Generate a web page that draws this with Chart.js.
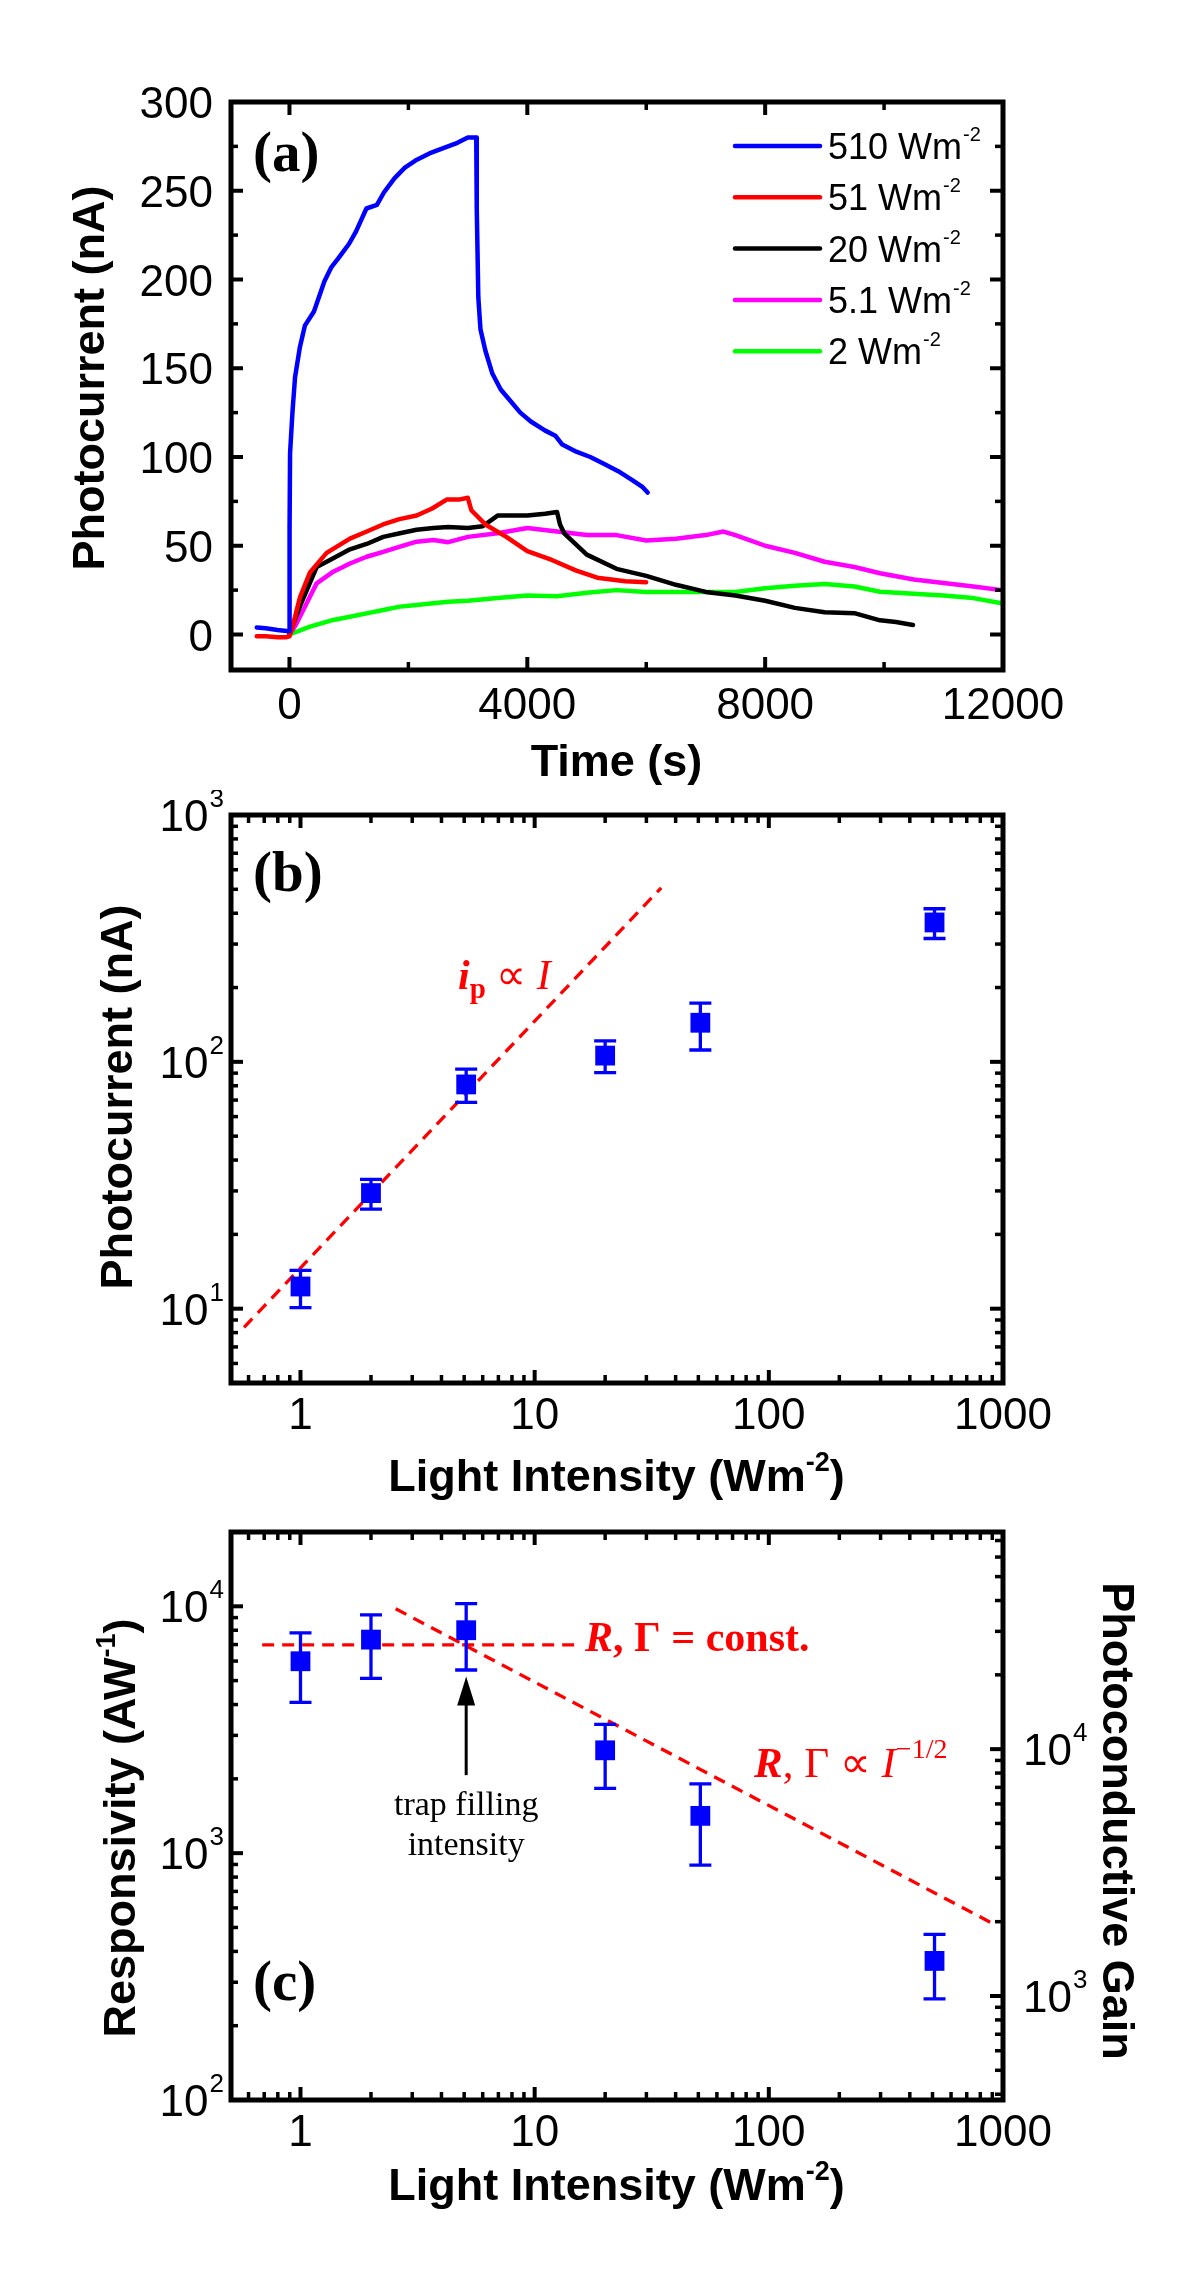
<!DOCTYPE html>
<html><head><meta charset="utf-8">
<script src="https://cdn.jsdelivr.net/npm/chart.js@4.4.1/dist/chart.umd.min.js"></script>
<style>
html,body{margin:0;padding:0;background:#fff;}
#wrap{position:relative;width:1200px;height:2272px;background:#fff;overflow:hidden;}
canvas{position:absolute;left:0;}
</style></head><body>
<div id="wrap">
<canvas id="ca" style="top:0px" width="1200" height="790"></canvas>
<canvas id="cb" style="top:790px" width="1200" height="710"></canvas>
<canvas id="cc" style="top:1500px" width="1200" height="772"></canvas>
</div>
<script>
// ---------------- DATA ----------------
// Panel (a): time traces (time in s, photocurrent in nA)
const t510 = [-550,-400,-200,-50,0,2,10,50,94,176,259,412,588,706,824,1000,1118,1294,1471,1588,1765,1941,2118,2353,2588,2824,3000,3141,3150,3176,3212,3294,3412,3553,3706,3882,4059,4294,4471,4588,4824,5059,5294,5529,5765,5941,6024];
const i510 = [4,3.5,2.5,2,2,60,102,125,145,162,174,182,199,207,212,220,227,240,242,249,257,263,267,271,274,277,280,280,240,190,172,160,147,138,132,125,120,115,112,107,103,100,96,92,87,83,80];
const t51 = [-550,-400,-200,-50,0,64,177,345,625,1017,1300,1574,1850,2139,2400,2643,2850,3000,3059,3294,3647,4000,4412,4824,5176,5647,6000];
const i51 = [-1,-1,-1.5,-1.5,-1,6,21,35,46,54,58,62,65,67,71,76,76,77,70,62,55,47,42,36,32,30,29.5];
const t20 = [0,177,457,737,1017,1298,1578,1858,2139,2419,2671,3000,3250,3500,3700,4000,4300,4500,4550,4620,5000,5500,6000,6500,7000,7500,8000,8500,9000,9500,9931,10200,10487];
const i20 = [0,16,38,43,48,51,55,57,59,60,60.5,60,61,67,67,67,68,69,62,57,45,37,33,28,24,22,19,15,12.5,12,8,7,5.4];
const t5 = [0,100,289,457,737,1017,1298,1578,1858,2139,2419,2671,3000,3500,4000,4500,5000,5500,6000,6500,7000,7300,7500,8000,8500,9000,9500,9931,10500,11000,11500,11978];
const i5 = [0,5,17.6,28.8,35.4,40,43.8,46.6,49.5,52.3,53.2,52,55,57,60,58,56,56,53,54,56,58,56,50,46,41,38,34.5,31,29,27,25];
const t2 = [0,345,737,1017,1298,1578,1858,2139,2419,2671,3000,3500,4000,4500,5000,5500,6000,6500,7000,7500,8000,8500,9000,9500,9931,10500,11000,11500,11978];
const i2 = [0,4.4,8.2,10,11.9,13.8,15.7,16.6,17.6,18.5,19,20.5,22,21.5,23.5,25,24,24,24,24,26,27.5,28.5,27,24.1,23,22,20.5,17.6];
const seriesLabelsA = ['510','51','20','5.1','2'];

// Panel (b): photocurrent vs intensity
const intensity = [1, 2, 5.1, 20, 51, 510];
const photoCur = [12.3, 29.4, 81, 106, 144, 367];
const photoCurHi = [14.3, 33.4, 93.5, 121.7, 173, 417];
const photoCurLo = [10.1, 25.3, 68.5, 90.4, 111.7, 316];
const linFitI = [0.574, 34.7];
const linFitP = [8.4, 507];

// Panel (c): responsivity vs intensity
const resp = [5990, 7330, 8000, 2610, 1416, 366];
const respHi = [7800, 9230, 10250, 3325, 1908, 469];
const respLo = [4085, 5110, 5520, 1830, 894, 257];
const constFitI = [0.686, 14.8];
const constFitR = [6980, 6980];
const sqrtFitI = [2.55, 935];
const sqrtFitR = [9770, 510];
const gainPerResp = 3.79;
const arrowI = 5.1, arrowFromR = 2070, arrowToR = 5190;

// Tick values
const tickAx = [0, 4000, 8000, 12000], minorAx = [2000, 6000, 10000];
const tickAy = [0, 50, 100, 150, 200, 250, 300], minorAy = [25, 75, 125, 175, 225, 275];
const tickLogX = [1, 10, 100, 1000];
const tickBy = [10, 100, 1000];
const tickCy = [100, 1000, 10000];
const tickCy2 = [1000, 10000];

// ---------------- HELPERS ----------------
const SANS = 'Liberation Sans, Arial, sans-serif';
const SERIF = 'Liberation Serif, Times New Roman, serif';
function logMinors(min, max){ const out=[]; for(let e=-2;e<6;e++){ for(let m=2;m<10;m++){ const v=m*Math.pow(10,e); if(v>min*1.0001 && v<max*0.9999) out.push(v);} } return out; }
function zip(a,b){ return a.map((v,i)=>({x:v,y:b[i]})); }
function richW(ctx, parts){ let w=0; for(const p of parts){ ctx.font=p.f; w+=ctx.measureText(p.t).width+(p.gap||0);} return w; }
function drawRich(ctx, parts, x, y, align, color){
  const w=richW(ctx,parts); let cx = align==='center'? x-w/2 : (align==='right'? x-w : x);
  ctx.textAlign='left'; ctx.textBaseline='alphabetic';
  for(const p of parts){ ctx.font=p.f; ctx.fillStyle=p.c||color||'#000'; cx+=(p.gap||0); ctx.fillText(p.t, cx, y+(p.dy||0)); cx+=ctx.measureText(p.t).width; }
}
function drawRot(ctx, parts, cx, cy, angle, capH){
  ctx.save(); ctx.translate(cx, cy); ctx.rotate(angle); drawRich(ctx, parts, 0, capH/2, 'center'); ctx.restore();
}
function logLabel(v){ return [{t:'10', f:'44px '+SANS},{t:String(Math.round(Math.log10(v))), f:'26px '+SANS, dy:-24, gap:1}]; }

const decoPlugin = {
  id:'deco',
  afterDatasetsDraw(chart, args, o){
    const ctx=chart.ctx;
    ctx.save();
    if(o.err){
      const xs=chart.scales.x, ys=chart.scales.y;
      ctx.strokeStyle='#0000ff'; ctx.lineWidth=3.3;
      o.err.x.forEach((xv,i)=>{
        const px=xs.getPixelForValue(xv), ph=ys.getPixelForValue(o.err.hi[i]), pl=ys.getPixelForValue(o.err.lo[i]);
        ctx.beginPath(); ctx.moveTo(px,ph); ctx.lineTo(px,pl);
        ctx.moveTo(px-11,ph); ctx.lineTo(px+11,ph); ctx.moveTo(px-11,pl); ctx.lineTo(px+11,pl); ctx.stroke();
      });
    }
    ctx.restore();
  },
  afterDraw(chart, args, o){
    const ctx=chart.ctx, a=chart.chartArea;
    const xs=chart.scales.x, ys=chart.scales.y;
    ctx.save();
    ctx.strokeStyle='#000'; ctx.lineWidth=5; ctx.lineCap='butt';
    ctx.strokeRect(a.left+1, a.top, a.right-a.left-1, a.bottom-a.top);
    const tick=(x1,y1,x2,y2,w)=>{ ctx.lineWidth=w; ctx.beginPath(); ctx.moveTo(x1,y1); ctx.lineTo(x2,y2); ctx.stroke(); };
    const ML=13, mL=8;
    o.xMaj.forEach(v=>{ const p=xs.getPixelForValue(v); if(p<a.left+2||p>a.right-2) return; tick(p,a.bottom,p,a.bottom-ML,4); tick(p,a.top,p,a.top+ML,4); });
    o.xMin.forEach(v=>{ const p=xs.getPixelForValue(v); if(p<a.left+2||p>a.right-2) return; tick(p,a.bottom,p,a.bottom-mL,3.5); tick(p,a.top,p,a.top+mL,3.5); });
    const yR = o.y2 ? chart.scales.y2 : null;
    o.yMaj.forEach(v=>{ const p=ys.getPixelForValue(v); if(p<a.top+2||p>a.bottom-2) return; tick(a.left,p,a.left+ML,p,4); if(!yR) tick(a.right,p,a.right-ML,p,4); });
    o.yMin.forEach(v=>{ const p=ys.getPixelForValue(v); if(p<a.top+2||p>a.bottom-2) return; tick(a.left,p,a.left+mL,p,3.5); if(!yR) tick(a.right,p,a.right-mL,p,3.5); });
    if(yR){
      o.y2Maj.forEach(v=>{ const p=yR.getPixelForValue(v); if(p<a.top+2||p>a.bottom-2) return; tick(a.right,p,a.right-ML,p,4); });
      o.y2Min.forEach(v=>{ const p=yR.getPixelForValue(v); if(p<a.top+2||p>a.bottom-2) return; tick(a.right,p,a.right-mL,p,3.5); });
    }
    ctx.fillStyle='#000';
    o.xLab.forEach(v=>{ const p=xs.getPixelForValue(v); drawRich(ctx,[{t:String(v), f:'44px '+SANS}], p, a.bottom+o.xLabOff, 'center'); });
    o.yLab.forEach(v=>{ const p=ys.getPixelForValue(v); const parts = o.yLog? logLabel(v) : [{t:String(v), f:'44px '+SANS}]; drawRich(ctx,parts, a.left-o.yLabGap, p+16, 'right'); });
    if(yR){ o.y2Lab.forEach(v=>{ const p=yR.getPixelForValue(v); drawRich(ctx, logLabel(v), a.right+20, p+16, 'left'); }); }
    drawRich(ctx, o.xTitle, (a.left+a.right)/2, a.bottom+o.xTitleOff, 'center');
    drawRot(ctx, o.yTitle, o.yTitleX, o.yTitleY, -Math.PI/2, 32);
    if(o.y2Title) drawRot(ctx, o.y2Title, o.y2TitleX, o.y2TitleY, Math.PI/2, 32);
    drawRich(ctx,[{t:o.panel, f:'bold 57px '+SERIF}], a.left+23, a.top+o.panelY, 'left');
    if(o.extra) o.extra(chart, ctx);
    ctx.restore();
  }
};

function baseOpts(pad){ return { responsive:false, animation:false, devicePixelRatio:1, layout:{padding:pad},
  plugins:{legend:{display:false}, tooltip:{enabled:false}} }; }

// ---------------- CHART A ----------------
const colorsA = ['#0000ff','#ff0000','#000000','#ff00ff','#00ff00'];
const tA=[t510,t51,t20,t5,t2], iA=[i510,i51,i20,i5,i2];
const optsA = baseOpts({left:230, right:197, top:102, bottom:120});
optsA.scales = { x:{type:'linear', min:-1000, max:12000, display:false}, y:{type:'linear', min:-20, max:300, display:false} };
optsA.plugins.deco = {
  xMaj:tickAx, xMin:minorAx, yMaj:tickAy, yMin:minorAy, xLab:tickAx, yLab:tickAy, xLabOff:49, yLabGap:17,
  xTitle:[{t:'Time (s)', f:'bold 45px '+SANS}], xTitleOff:106,
  yTitle:[{t:'Photocurrent (nA)', f:'bold 45px '+SANS}], yTitleX:88, yTitleY:378,
  panel:'(a)', panelY:69,
  extra(chart, ctx){
    const x0=735, x1=820, y0=146, dy=51.3;
    seriesLabelsA.forEach((s,i)=>{
      const y=y0+i*dy;
      ctx.strokeStyle=colorsA[i]; ctx.lineWidth=4.5; ctx.lineCap='round';
      ctx.beginPath(); ctx.moveTo(x0,y); ctx.lineTo(x1,y); ctx.stroke();
      drawRich(ctx,[{t:s+' Wm', f:'36px '+SANS},{t:'-2', f:'20px '+SANS, dy:-18, gap:1}], x1+8, y+13, 'left');
    });
  }
};
new Chart(document.getElementById('ca'), { type:'line',
  data:{ datasets: seriesLabelsA.map((s,i)=>({ label:s+' Wm-2', data:zip(tA[i],iA[i]), borderColor:colorsA[i], borderWidth:4.5, pointRadius:0, tension:0, fill:false, borderJoinStyle:'round', borderCapStyle:'round' })) },
  options:optsA, plugins:[decoPlugin] });

// ---------------- CHART B ----------------
const optsB = baseOpts({left:230, right:197, top:25, bottom:117});
optsB.scales = { x:{type:'logarithmic', min:0.5, max:1000, display:false}, y:{type:'logarithmic', min:5, max:1000, display:false} };
optsB.plugins.deco = {
  xMaj:tickLogX, xMin:logMinors(0.5,1000), yMaj:tickBy, yMin:logMinors(5,1000), xLab:tickLogX, yLab:tickBy, yLog:true, xLabOff:46, yLabGap:6,
  err:{x:intensity, hi:photoCurHi, lo:photoCurLo},
  xTitle:[{t:'Light Intensity (Wm', f:'bold 45px '+SANS},{t:'-2', f:'bold 27px '+SANS, dy:-20},{t:')', f:'bold 45px '+SANS}], xTitleOff:108,
  yTitle:[{t:'Photocurrent (nA)', f:'bold 45px '+SANS}], yTitleX:116, yTitleY:307,
  panel:'(b)', panelY:76,
  extra(chart, ctx){
    drawRich(ctx,[{t:'i', f:'bold italic 42px '+SERIF},{t:'p', f:'bold 29px '+SERIF, dy:9},{t:' \u221D ', f:'42px '+SERIF},{t:'I', f:'italic 42px '+SERIF}], 458, 989-790, 'left', '#ff0000');
  }
};
new Chart(document.getElementById('cb'), { type:'scatter',
  data:{ datasets:[
    { data:zip(intensity, photoCur), pointStyle:'rect', pointRadius:14, borderWidth:0, backgroundColor:'#0000ff', borderColor:'#0000ff' },
    { type:'line', data:zip(linFitI, linFitP), borderColor:'#ff0000', borderWidth:3.3, borderDash:[12,8], pointRadius:0, fill:false }
  ]},
  options:optsB, plugins:[decoPlugin] });

// ---------------- CHART C ----------------
const optsC = baseOpts({left:230, right:197, top:32, bottom:172});
optsC.scales = { x:{type:'logarithmic', min:0.5, max:1000, display:false}, y:{type:'logarithmic', min:100, max:20000, display:false},
  y2:{type:'logarithmic', position:'right', min:100*gainPerResp, max:20000*gainPerResp, display:false} };
optsC.plugins.deco = {
  xMaj:tickLogX, xMin:logMinors(0.5,1000), yMaj:tickCy, yMin:logMinors(100,20000), y2:true, y2Maj:tickCy2, y2Min:logMinors(100*gainPerResp,20000*gainPerResp),
  xLab:tickLogX, yLab:tickCy, y2Lab:tickCy2, yLog:true, xLabOff:46, yLabGap:6,
  err:{x:intensity, hi:respHi, lo:respLo},
  xTitle:[{t:'Light Intensity (Wm', f:'bold 45px '+SANS},{t:'-2', f:'bold 27px '+SANS, dy:-20},{t:')', f:'bold 45px '+SANS}], xTitleOff:100,
  yTitle:[{t:'Responsivity (AW', f:'bold 45px '+SANS},{t:'-1', f:'bold 27px '+SANS, dy:-20},{t:')', f:'bold 45px '+SANS}], yTitleX:119, yTitleY:328,
  y2Title:[{t:'Photoconductive Gain', f:'bold 45px '+SANS}], y2TitleX:1119, y2TitleY:321,
  panel:'(c)', panelY:468,
  extra(chart, ctx){
    const xs=chart.scales.x, ys=chart.scales.y;
    const ax=xs.getPixelForValue(arrowI), ay0=ys.getPixelForValue(arrowFromR), ay1=ys.getPixelForValue(arrowToR);
    ctx.strokeStyle='#000'; ctx.fillStyle='#000'; ctx.lineWidth=3;
    ctx.beginPath(); ctx.moveTo(ax,ay0); ctx.lineTo(ax,ay1+20); ctx.stroke();
    ctx.beginPath(); ctx.moveTo(ax,ay1); ctx.lineTo(ax-9,ay1+29); ctx.lineTo(ax+9,ay1+29); ctx.closePath(); ctx.fill();
    drawRich(ctx,[{t:'trap filling', f:'34px '+SERIF}], ax, 1815-1500, 'center');
    drawRich(ctx,[{t:'intensity', f:'34px '+SERIF}], ax, 1855-1500, 'center');
    drawRich(ctx,[{t:'R', f:'bold italic 42px '+SERIF},{t:', \u0393 = const.', f:'bold 42px '+SERIF}], 585, 1651-1500, 'left', '#ff0000');
    drawRich(ctx,[{t:'R', f:'bold italic 43px '+SERIF},{t:', \u0393 \u221D ', f:'43px '+SERIF},{t:'I', f:'italic 43px '+SERIF},{t:'\u22121/2', f:'28px '+SERIF, dy:-19}], 754, 1777-1500, 'left', '#ff0000');
  }
};
new Chart(document.getElementById('cc'), { type:'scatter',
  data:{ datasets:[
    { data:zip(intensity, resp), pointStyle:'rect', pointRadius:14, borderWidth:0, backgroundColor:'#0000ff', borderColor:'#0000ff' },
    { type:'line', data:zip(constFitI, constFitR), borderColor:'#ff0000', borderWidth:3.3, borderDash:[12,8], pointRadius:0, fill:false },
    { type:'line', data:zip(sqrtFitI, sqrtFitR), borderColor:'#ff0000', borderWidth:3.3, borderDash:[12,8], pointRadius:0, fill:false }
  ]},
  options:optsC, plugins:[decoPlugin] });
</script>
</body></html>
